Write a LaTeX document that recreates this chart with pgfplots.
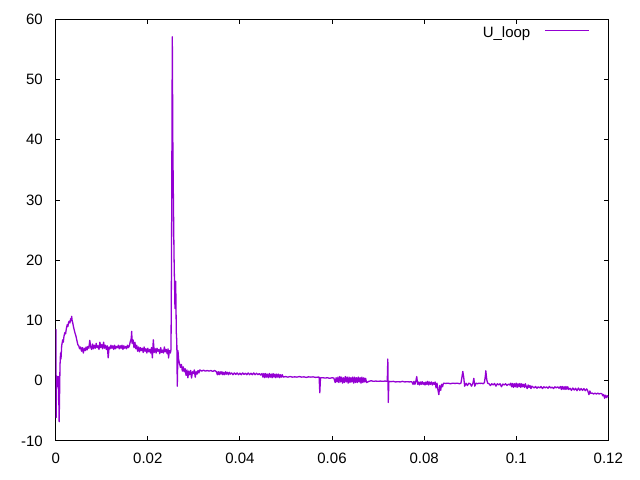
\documentclass[border=0pt]{standalone}
\usepackage{fontspec}
\setmainfont{Liberation Sans}
\usepackage{pgfplots}
\pgfplotsset{compat=1.18}
\definecolor{gpviolet}{RGB}{148,0,211}
\begin{document}
\begin{tikzpicture}
\begin{axis}[
  scale only axis, width=552.6bp, height=421.7bp,
  xmin=0, xmax=0.12, ymin=-10, ymax=60,
  xtick={0,0.02,0.04,0.06,0.08,0.1,0.12},
  xticklabels={0,0.02,0.04,0.06,0.08,0.1,0.12},
  ytick={-10,0,10,20,30,40,50,60},
  yticklabels={-10,0,10,20,30,40,50,60},
  tick align=inside, major tick length=4.5bp,
  tick style={black, line width=1bp},
  axis line style={black, line width=1bp},
  tick label style={font=\fontsize{15bp}{18bp}\selectfont, inner sep=0pt, outer sep=0pt},
  xticklabel style={anchor=north, yshift=-12bp},
  yticklabel style={anchor=east, xshift=-13bp},
  legend plot pos=right,
  legend image code/.code={\draw[gpviolet, line width=1bp] (0bp,2.4bp) -- (44bp,2.4bp);},
  legend style={draw=none, fill=none, at={(rel axis cs:1,1)}, anchor=north east,
    xshift=-19bp, yshift=-7.5bp, inner sep=0pt, outer sep=0pt,
    column sep=14bp, nodes={inner sep=0pt, outer sep=0pt},
    font=\fontsize{15bp}{18bp}\selectfont},
]
\addplot[color=gpviolet, line width=1.3bp, line join=round] coordinates {
(0.00000,0.0) (0.00005,8.5) (0.00010,-6.1) (0.00020,0.8) (0.00030,-1.0) (0.00040,0.7)
(0.00050,-0.8) (0.00060,0.7) (0.00075,-6.8) (0.00085,-2.0) (0.00093,2.4) (0.00105,4.6)
(0.00115,3.6) (0.00130,5.8) (0.00152,6.8) (0.00165,6.4) (0.00180,7.4) (0.00200,8.0)
(0.00215,7.8) (0.00230,8.6) (0.00250,9.3) (0.00265,9.0) (0.00280,9.7) (0.00295,9.9)
(0.00310,9.6) (0.00325,10.3) (0.00340,10.0) (0.00347,10.7) (0.00355,10.1) (0.00370,9.6)
(0.00385,9.0) (0.00400,8.5) (0.00420,7.9) (0.00440,7.4) (0.00460,6.7) (0.00480,6.0)
(0.00500,5.8) (0.00520,5.3) (0.00540,5.6) (0.00560,4.9) (0.00580,5.5) (0.00600,4.6)
(0.00620,5.4) (0.00640,5.0) (0.00660,5.6) (0.00680,5.1) (0.00700,5.7) (0.00720,5.4)
(0.00740,6.7) (0.00760,5.6)
(0.00780,5.2) (0.00800,6.1) (0.00820,5.3) (0.00840,5.9) (0.00860,5.4) (0.00880,6.2)
(0.00900,5.5) (0.00920,5.8) (0.00940,5.2) (0.00960,6.4) (0.00980,5.5) (0.01000,6.0)
(0.01020,5.3) (0.01040,6.4) (0.01060,5.4) (0.01080,5.9) (0.01100,5.2) (0.01120,5.8)
(0.01140,3.8) (0.01160,5.6) (0.01180,5.3) (0.01200,5.9) (0.01220,5.4) (0.01240,5.8)
(0.01260,5.2) (0.01280,5.9) (0.01300,5.3) (0.01320,5.7) (0.01340,5.5) (0.01360,5.9)
(0.01380,5.3) (0.01400,5.8) (0.01420,5.4) (0.01440,5.9) (0.01460,5.2) (0.01480,5.8)
(0.01500,5.4) (0.01520,5.7) (0.01540,5.3) (0.01560,5.9) (0.01580,5.5) (0.01600,5.8)
(0.01620,6.5) (0.01640,7.0) (0.01650,8.2) (0.01660,6.2) (0.01680,6.8) (0.01700,5.5)
(0.01720,6.4) (0.01740,5.3) (0.01760,5.9) (0.01780,4.9) (0.01800,5.6) (0.01820,4.8)
(0.01840,5.5) (0.01860,5.0) (0.01880,5.4) (0.01900,4.7) (0.01920,5.6) (0.01940,4.9)
(0.01960,5.3) (0.01980,4.6) (0.02000,5.4) (0.02020,4.8) (0.02040,5.2) (0.02060,4.6)
(0.02080,5.5) (0.02100,3.8) (0.02120,6.8) (0.02140,4.7) (0.02160,5.3) (0.02180,4.6)
(0.02200,5.4) (0.02220,4.9) (0.02240,5.2) (0.02260,4.5) (0.02280,5.5) (0.02300,4.7)
(0.02320,5.1) (0.02340,4.6) (0.02360,5.6) (0.02380,4.8) (0.02400,5.2) (0.02420,4.5)
(0.02440,5.3) (0.02450,3.8) (0.02470,5.0) (0.02490,4.6) (0.02504,5.2)
(0.02515,20.0) (0.02532,57.1) (0.02545,38.0) (0.02569,21.0) (0.02590,12.0) (0.02606,16.5)
(0.02619,8.0) (0.02630,6.5) (0.02640,-0.9) (0.02655,5.0)
(0.02670,3.5) (0.02690,2.8) (0.02710,2.2) (0.02730,2.7) (0.02750,1.6) (0.02770,2.3)
(0.02790,1.5) (0.02810,2.0)
(0.02830,0.9) (0.02850,1.8) (0.02870,0.5) (0.02890,1.6) (0.02910,1.0) (0.02930,1.7)
(0.02950,0.45) (0.02970,1.5) (0.02990,1.2) (0.03010,1.8) (0.03030,0.6) (0.03050,1.5)
(0.03070,1.1) (0.03090,1.7) (0.03110,1.3) (0.03130,1.8)
(0.03170,1.6) (0.03210,1.75) (0.03250,1.6) (0.03290,1.7) (0.03330,1.6) (0.03370,1.7)
(0.03410,1.55) (0.03450,1.7) (0.03490,1.5)
(0.03510,1.0) (0.03530,1.5) (0.03550,1.0) (0.03570,1.5) (0.03590,1.1) (0.03610,1.5)
(0.03630,1.0) (0.03650,1.4) (0.03670,1.0) (0.03690,1.5) (0.03710,1.1) (0.03730,1.4)
(0.03750,1.0) (0.03770,1.4) (0.03790,1.1)
(0.03820,1.3) (0.03850,1.0) (0.03880,1.3) (0.03910,1.05) (0.03940,1.3) (0.03970,1.0)
(0.04000,1.25) (0.04030,1.0) (0.04060,1.3) (0.04090,1.05) (0.04120,1.25) (0.04150,1.0)
(0.04180,1.3) (0.04210,1.0) (0.04240,1.25) (0.04270,1.0) (0.04300,1.3) (0.04330,1.0)
(0.04360,1.25) (0.04390,1.0) (0.04420,1.2) (0.04450,0.95) (0.04480,1.2)
(0.04500,0.6) (0.04520,1.2) (0.04540,0.5) (0.04560,1.2) (0.04580,0.6) (0.04600,1.1)
(0.04620,0.5) (0.04640,1.2) (0.04660,0.6) (0.04680,1.1) (0.04700,0.5) (0.04720,1.2)
(0.04740,0.6) (0.04760,1.1) (0.04780,0.5) (0.04800,1.1) (0.04820,0.6) (0.04840,1.1)
(0.04860,0.5) (0.04880,1.0) (0.04900,0.6) (0.04920,1.0) (0.04940,0.6)
(0.04990,0.7) (0.05040,0.6) (0.05090,0.7) (0.05140,0.6) (0.05190,0.65) (0.05240,0.6)
(0.05290,0.7) (0.05340,0.6) (0.05390,0.65) (0.05440,0.55) (0.05490,0.65) (0.05540,0.6)
(0.05590,0.65) (0.05640,0.55) (0.05690,0.6) (0.05720,0.6) (0.05735,-2.0) (0.05750,0.5)
(0.05800,0.5) (0.05850,0.45) (0.05900,0.5) (0.05950,0.4) (0.06000,0.5) (0.06040,0.45)
(0.06070,-0.3) (0.06090,0.5) (0.06110,-0.2)
(0.06130,0.6) (0.06150,-0.3) (0.06170,0.7) (0.06190,-0.2) (0.06210,0.6) (0.06230,-0.4)
(0.06250,0.5) (0.06270,-0.3) (0.06290,0.7) (0.06310,-0.2) (0.06330,0.6) (0.06350,-0.4)
(0.06370,0.6) (0.06390,-0.3) (0.06410,0.5) (0.06430,-0.2) (0.06450,0.6) (0.06470,-0.4)
(0.06490,0.6) (0.06510,-0.3) (0.06530,0.5) (0.06550,-0.3) (0.06570,0.6) (0.06590,-0.2)
(0.06610,0.5) (0.06630,-0.4) (0.06650,0.6) (0.06670,-0.3) (0.06690,0.5) (0.06710,-0.2)
(0.06730,0.4) (0.06750,-0.3)
(0.06800,-0.1) (0.06850,0.0) (0.06900,-0.1) (0.06950,-0.05) (0.07000,-0.1) (0.07050,-0.05)
(0.07100,-0.1) (0.07150,-0.05) (0.07200,-0.1) (0.07212,3.6) (0.07222,-3.6) (0.07235,-0.1)
(0.07280,-0.15) (0.07330,-0.1) (0.07380,-0.2) (0.07430,-0.15) (0.07480,-0.2) (0.07530,-0.1)
(0.07580,-0.2) (0.07630,-0.15) (0.07680,-0.2) (0.07730,-0.15)
(0.07760,-0.6) (0.07780,-0.1) (0.07800,-0.6) (0.07820,-0.1) (0.07840,0.7) (0.07860,-0.6)
(0.07880,-0.2) (0.07900,-0.7) (0.07920,-0.2) (0.07940,-0.6) (0.07960,-0.15) (0.07980,-0.6)
(0.08000,-0.3) (0.08020,-0.7) (0.08040,-0.2) (0.08060,-0.6) (0.08080,-0.1) (0.08100,-0.7)
(0.08120,-0.2) (0.08140,-0.6) (0.08160,-0.2) (0.08180,-0.7) (0.08200,-0.3) (0.08220,-0.6)
(0.08240,-0.2)
(0.08260,-1.2) (0.08280,-0.4) (0.08300,-1.5) (0.08320,-2.3) (0.08340,-0.8) (0.08360,-1.6)
(0.08380,-0.6) (0.08400,-1.0) (0.08420,-0.4)
(0.08470,-0.45) (0.08520,-0.4) (0.08570,-0.5) (0.08620,-0.4) (0.08670,-0.45) (0.08720,-0.4)
(0.08770,-0.5) (0.08800,-0.4) (0.08820,0.5) (0.08840,1.55) (0.08860,0.6) (0.08880,-0.9)
(0.08910,-0.4) (0.08940,-0.8) (0.08970,-0.4) (0.09000,-0.5) (0.09030,-0.9) (0.09060,-0.4)
(0.09080,0.4) (0.09100,-0.9) (0.09130,-0.4) (0.09160,-0.5) (0.09190,-0.4) (0.09220,-0.45)
(0.09250,-0.4) (0.09280,-0.5) (0.09310,-0.3) (0.09330,0.8) (0.09340,1.66) (0.09360,0.2)
(0.09380,-0.4)
(0.09410,-0.5) (0.09440,-0.8) (0.09470,-0.5) (0.09500,-0.7) (0.09530,-0.45) (0.09560,-0.9)
(0.09590,-0.5) (0.09620,-0.7) (0.09650,-0.5) (0.09680,-1.0) (0.09710,-0.55) (0.09740,-0.7)
(0.09770,-0.5) (0.09800,-0.8) (0.09830,-0.55) (0.09860,-0.7)
(0.09880,-0.4) (0.09900,-1.0) (0.09920,-0.45) (0.09940,-1.1) (0.09960,-0.5) (0.09980,-1.0)
(0.10000,-0.4) (0.10020,-1.1) (0.10040,-0.5) (0.10060,-1.0) (0.10080,-0.45) (0.10100,-1.1)
(0.10120,-0.5) (0.10140,-1.0) (0.10160,-0.6) (0.10180,-1.1) (0.10200,-0.5) (0.10220,-1.0)
(0.10240,-1.3) (0.10260,-0.7) (0.10280,-1.1) (0.10300,-0.8) (0.10320,-1.3) (0.10340,-0.9)
(0.10360,-1.0)
(0.10390,-1.2) (0.10420,-0.95) (0.10450,-1.25) (0.10480,-1.0) (0.10510,-1.2) (0.10540,-0.95)
(0.10570,-1.3) (0.10600,-1.0) (0.10630,-1.2) (0.10660,-1.0) (0.10690,-1.25) (0.10720,-0.95)
(0.10750,-1.2) (0.10780,-1.05) (0.10810,-1.3) (0.10840,-1.0) (0.10870,-1.2) (0.10900,-1.0)
(0.10930,-1.25)
(0.10960,-0.95) (0.10980,-1.45) (0.11000,-0.95) (0.11020,-1.4) (0.11040,-1.0) (0.11060,-1.45)
(0.11080,-0.95) (0.11100,-1.4) (0.11120,-1.0) (0.11140,-1.45)
(0.11170,-1.25) (0.11200,-1.6) (0.11230,-1.2) (0.11260,-1.55) (0.11290,-1.25) (0.11320,-1.65)
(0.11350,-1.2) (0.11380,-1.6) (0.11410,-1.3) (0.11440,-1.6) (0.11470,-1.3) (0.11500,-1.65)
(0.11530,-1.35)
(0.11550,-1.6) (0.11580,-2.3) (0.11600,-1.7) (0.11620,-2.1) (0.11650,-2.05)
(0.11680,-2.2) (0.11710,-2.05) (0.11740,-2.2) (0.11770,-2.05) (0.11800,-2.2) (0.11830,-2.1)
(0.11860,-2.15)
(0.11880,-2.5) (0.11900,-2.3) (0.11920,-2.9) (0.11940,-2.4) (0.11960,-2.8) (0.11980,-2.5)
(0.12000,-2.7)
};
\addlegendentry{U\_loop}
\end{axis}
\pgfresetboundingbox
\path ([xshift=-55.7bp,yshift=-39bp]current axis.south west) rectangle ([xshift=31.7bp,yshift=19.3bp]current axis.north east);
\end{tikzpicture}
\end{document}
